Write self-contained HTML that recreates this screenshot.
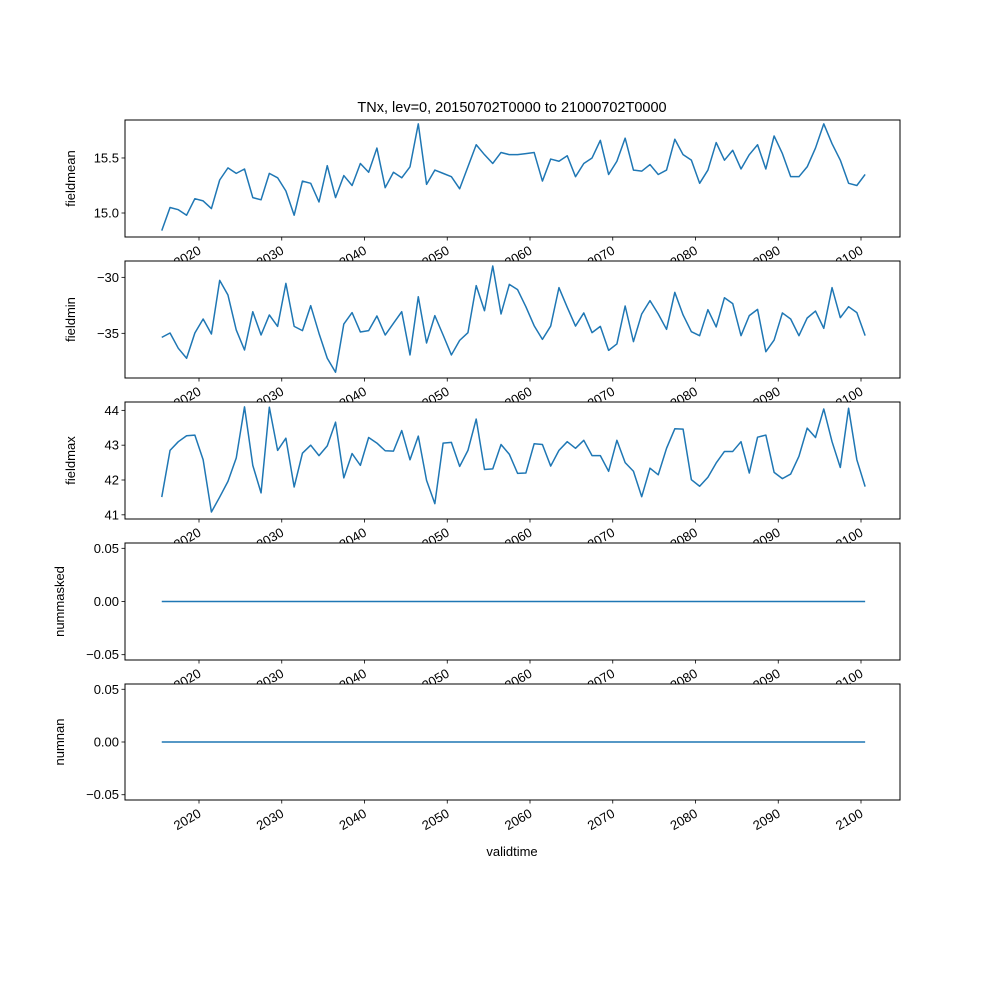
<!DOCTYPE html>
<html><head><meta charset="utf-8"><style>body{margin:0;background:#fff}svg{display:block;font-family:"Liberation Sans","DejaVu Sans",sans-serif}</style></head>
<body>
<svg id="chart" width="1000" height="1000"></svg>
<script>
const years = [];
for (let i = 0; i < 86; i++) years.push(2015.5 + i);
const fieldmean = [14.84,15.05,15.03,14.98,15.13,15.11,15.04,15.30,15.41,15.36,15.40,15.14,15.12,15.36,15.32,15.20,14.98,15.29,15.27,15.10,15.43,15.14,15.34,15.25,15.45,15.37,15.59,15.23,15.37,15.32,15.42,15.81,15.26,15.39,15.36,15.33,15.22,15.42,15.62,15.53,15.45,15.55,15.53,15.53,15.54,15.55,15.29,15.49,15.47,15.52,15.33,15.45,15.50,15.66,15.35,15.47,15.68,15.39,15.38,15.44,15.35,15.39,15.67,15.53,15.48,15.27,15.39,15.64,15.48,15.57,15.40,15.53,15.62,15.40,15.70,15.54,15.33,15.33,15.42,15.59,15.81,15.63,15.48,15.27,15.25,15.35];
const fieldmin = [-35.36,-34.97,-36.34,-37.23,-34.97,-33.72,-35.06,-30.27,-31.58,-34.70,-36.49,-33.07,-35.15,-33.36,-34.38,-30.54,-34.38,-34.76,-32.53,-35.00,-37.23,-38.48,-34.17,-33.15,-34.88,-34.76,-33.45,-35.15,-34.11,-33.07,-36.93,-31.73,-35.86,-33.42,-35.15,-36.93,-35.63,-34.94,-30.74,-32.98,-28.99,-33.27,-30.63,-31.10,-32.62,-34.32,-35.54,-34.35,-30.92,-32.68,-34.35,-33.18,-34.94,-34.38,-36.52,-35.95,-32.56,-35.74,-33.27,-32.08,-33.27,-34.64,-31.34,-33.36,-34.85,-35.21,-32.89,-34.43,-31.82,-32.35,-35.21,-33.42,-32.86,-36.64,-35.60,-33.18,-33.72,-35.21,-33.63,-33.01,-34.55,-30.92,-33.60,-32.62,-33.15,-35.21];
const fieldmax = [41.51,42.85,43.10,43.27,43.29,42.58,41.08,41.51,41.96,42.63,44.10,42.42,41.63,44.09,42.85,43.20,41.80,42.77,43.00,42.70,42.98,43.66,42.06,42.76,42.42,43.22,43.06,42.84,42.83,43.42,42.58,43.26,41.99,41.32,43.06,43.08,42.39,42.85,43.75,42.30,42.32,43.02,42.74,42.19,42.20,43.04,43.02,42.40,42.85,43.10,42.91,43.14,42.70,42.70,42.25,43.14,42.50,42.25,41.52,42.34,42.15,42.91,43.47,43.46,42.01,41.82,42.08,42.49,42.82,42.82,43.10,42.20,43.23,43.29,42.22,42.04,42.17,42.68,43.49,43.22,44.04,43.10,42.36,44.06,42.58,41.81];
const nummasked = years.map(() => 0);
const numnan = years.map(() => 0);
const xTicks = [2020,2030,2040,2050,2060,2070,2080,2090,2100];
const ticks1 = [15.0,15.5], ticks2 = [-35,-30], ticks3 = [41,42,43,44], ticks0 = [-0.05,0.00,0.05];

const NS = "http://www.w3.org/2000/svg";
const svg = document.getElementById('chart');
const L = 125, R = 900;
function X(yr){ return 199 + (yr - 2020) * (861 - 199) / 80; }
function mk(tag, attrs, parent){ const e = document.createElementNS(NS, tag); for (const k in attrs) e.setAttribute(k, attrs[k]); (parent||svg).appendChild(e); return e; }

const t = mk('text', {x:512, y:112, 'text-anchor':'middle', 'font-size':14.5, fill:'#000'});


t.textContent = 'TNx, lev=0, 20150702T0000 to 21000702T0000';

const panels = [
  {name:'fieldmean', data:fieldmean, top:120, bot:237, lo:14.782, hi:15.845, ticks:ticks1, fmt:v=>v.toFixed(1)},
  {name:'fieldmin', data:fieldmin, top:261, bot:378, lo:-38.99, hi:-28.54, ticks:ticks2, fmt:v=>String(v).replace('-','\u2212')},
  {name:'fieldmax', data:fieldmax, top:402, bot:519, lo:40.88, hi:44.24, ticks:ticks3, fmt:v=>String(v)},
  {name:'nummasked', data:nummasked, top:543, bot:660, lo:-0.055, hi:0.055, ticks:ticks0, fmt:v=>v.toFixed(2).replace('-','\u2212')},
  {name:'numnan', data:numnan, top:684, bot:800, lo:-0.055, hi:0.055, ticks:ticks0, fmt:v=>v.toFixed(2).replace('-','\u2212')}
];

panels.forEach((p) => {
  const g = mk('g', {});
  
  
  mk('rect', {x:L, y:p.top, width:R-L, height:p.bot-p.top, fill:'#fff'}, g);
  const Y = v => p.bot - (v - p.lo) / (p.hi - p.lo) * (p.bot - p.top);
  const d = p.data.map((v,i) => (i ? 'L' : 'M') + X(years[i]).toFixed(2) + ',' + Y(v).toFixed(2)).join(' ');
  const line = mk('path', {d:d, fill:'none', stroke:'#1f77b4', 'stroke-width':1.5, 'stroke-linejoin':'round'}, g);
  
  
  mk('rect', {x:L, y:p.top, width:R-L, height:p.bot-p.top, fill:'none', stroke:'#000', 'stroke-width':1}, g);
  p.ticks.forEach(v => {
    const y = Y(v);
    mk('line', {x1:L-3.5, x2:L, y1:y, y2:y, stroke:'#000', 'stroke-width':0.8}, g);
    const tt = mk('text', {x:L-6, y:y+4.5, 'text-anchor':'end', 'font-size':13, fill:'#000'}, g);
    
    
    tt.textContent = p.fmt(v);
  });
  xTicks.forEach(yr => {
    const x = X(yr);
    mk('line', {x1:x, x2:x, y1:p.bot, y2:p.bot+3.5, stroke:'#000', 'stroke-width':0.8}, g);
    const tx = mk('text', {x:0, y:0, 'text-anchor':'end', 'font-size':13, fill:'#000', transform:'translate(' + (x+3) + ',' + (p.bot+16) + ') rotate(-30)'}, g);
    
    
    tx.textContent = yr;
  });
  const yl = mk('text', {x:0, y:0, 'text-anchor':'middle', 'font-size':13, fill:'#000', transform:'translate(' + (p.name.startsWith('num') ? 64 : 75) + ',' + ((p.top+p.bot)/2) + ') rotate(-90)'}, g);
  
  
  yl.textContent = p.name;
});

const xl = mk('text', {x:512, y:856, 'text-anchor':'middle', 'font-size':13, fill:'#000'});


xl.textContent = 'validtime';
</script>
</body></html>
